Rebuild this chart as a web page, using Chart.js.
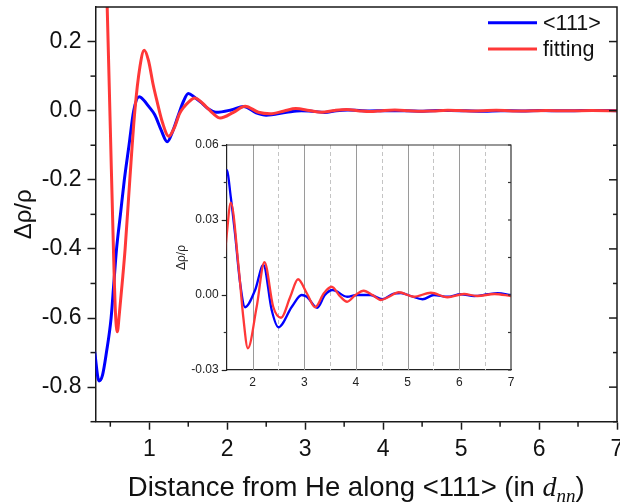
<!DOCTYPE html>
<html>
<head>
<meta charset="utf-8">
<script src="https://cdn.jsdelivr.net/npm/chart.js@4/dist/chart.umd.min.js"></script>
<style>
  html, body { margin: 0; padding: 0; background: #ffffff; }
  #wrap { position: relative; width: 620px; height: 503px; overflow: hidden; }
  #main { position: absolute; left: 0; top: 0; }
  #inset { position: absolute; left: 150px; top: 135px; }
</style>
</head>
<body>
<div id="wrap">
  <canvas id="main" width="620" height="503"></canvas>
  <canvas id="inset" width="375" height="265"></canvas>
</div>
<script>
// ---------- data ----------
const seriesLabels = ['<111>', 'fitting'];

const xBlue = [0.30, 0.355, 0.40, 0.45, 0.51, 0.545, 0.58, 0.63, 0.68, 0.74, 0.80, 0.87, 0.93, 0.99, 1.07, 1.15, 1.23, 1.30, 1.37, 1.44, 1.50,
  1.58, 1.66, 1.76, 1.855, 2.05, 2.21, 2.37, 2.50, 2.76, 2.95, 3.05, 3.25, 3.40, 3.55, 3.83, 4.02, 4.28, 4.51, 4.72, 4.87, 5.06, 5.29, 5.51, 5.77, 6.03, 6.29, 6.55, 6.74, 7.0];
const yBlue = [-0.70, -0.782, -0.765, -0.70, -0.60, -0.50, -0.40, -0.30, -0.20, -0.10, 0.0, 0.040, 0.030, 0.013, -0.012, -0.055, -0.090, -0.060, -0.015, 0.028, 0.050,
  0.039, 0.0247, 0.0047, -0.0049, 0.002, 0.012, -0.006, -0.0129, -0.0047, 0.0, -0.0007, -0.0051, 0.0, 0.002, -0.0007, 0.0, 0.0, -0.0017, 0.0005, 0.0008, -0.0004, -0.0017, 0.0, -0.0007, 0.0003, -0.0004, 0.0003, 0.0007, 0.0];

const xRed = [0.40, 0.46, 0.50, 0.54, 0.565, 0.59, 0.615, 0.66, 0.69, 0.75, 0.815, 0.88, 0.935, 0.99, 1.05, 1.095, 1.17, 1.25, 1.32, 1.39, 1.45, 1.50,
  1.58, 1.73, 1.82, 1.91, 2.08, 2.23, 2.40, 2.55, 2.73, 2.88, 3.05, 3.21, 3.38, 3.53, 3.70, 3.83, 3.99, 4.15, 4.32, 4.48, 4.64, 4.83, 5.12, 5.45, 5.77, 6.09, 6.35, 6.68, 7.0];
const yRed = [0.75, 0.30, -0.05, -0.40, -0.58, -0.64, -0.59, -0.48, -0.40, -0.20, 0.0, 0.127, 0.175, 0.145, 0.075, 0.031, -0.035, -0.074, -0.050, -0.008, 0.012, 0.024,
  0.0369, 0.0113, -0.0087, -0.0213, -0.0047, 0.0131, -0.0047, -0.0091, -0.0007, 0.0063, 0.0007, -0.0049, 0.0007, 0.0033, -0.0007, -0.0027, 0.0, 0.0017, 0.0, -0.002, -0.0007, 0.0011, -0.0007, 0.0009, -0.0009, 0.0004, -0.0004, 0.0004, -0.0004];

// main axes ticks
const mainXTicks = [1, 2, 3, 4, 5, 6, 7];
const mainXMinor = [0.5, 1.5, 2.5, 3.5, 4.5, 5.5, 6.5];
const mainYTicks = [-0.8, -0.6, -0.4, -0.2, 0.0, 0.2];
const mainYMinor = [-0.9, -0.7, -0.5, -0.3, -0.1, 0.1];

// inset axes ticks
const insetXTicks = [2, 3, 4, 5, 6, 7];
const insetXGridSolid = [2, 3, 4, 5, 6];
const insetXGridDashed = [2.5, 3.5, 4.5, 5.5, 6.5];
const insetYTicks = [-0.03, 0.0, 0.03, 0.06];
const insetYMinor = [-0.015, 0.015, 0.045];

// ---------- styles ----------
const BLUE = '#0000ff';
const RED = '#ff3838';
const AXIS = '#1a1a1a';
const SANS = "'Liberation Sans', Arial, Helvetica, sans-serif";
const SERIF = "'Liberation Serif', 'Times New Roman', serif";
Chart.defaults.font.family = SANS;
Chart.defaults.color = '#111';

const pts = (xs, ys) => xs.map((x, i) => ({ x: x, y: ys[i] }));

function seg(ctx, x1, y1, x2, y2) {
  ctx.beginPath(); ctx.moveTo(x1, y1); ctx.lineTo(x2, y2); ctx.stroke();
}

// ---------- main chart decorations ----------
const mainDecor = {
  id: 'mainDecor',
  afterDraw(chart) {
    const ctx = chart.ctx, a = chart.chartArea, x = chart.scales.x, y = chart.scales.y;
    ctx.save();
    ctx.strokeStyle = AXIS;
    ctx.lineWidth = 1.5;
    ctx.lineCap = 'butt';
    // top + right frame
    ctx.beginPath();
    ctx.moveTo(a.left, a.top); ctx.lineTo(a.right, a.top); ctx.lineTo(a.right, a.bottom);
    ctx.stroke();
    // minor ticks outward on left and bottom
    mainYMinor.forEach(v => { const p = y.getPixelForValue(v); seg(ctx, a.left - 5, p, a.left, p); });
    mainXMinor.forEach(v => { const p = x.getPixelForValue(v); if (p > a.left + 1) seg(ctx, p, a.bottom, p, a.bottom + 5); });
    // inward ticks on right
    mainYTicks.forEach(v => { const p = y.getPixelForValue(v); seg(ctx, a.right - 8, p, a.right, p); });
    mainYMinor.forEach(v => { const p = y.getPixelForValue(v); seg(ctx, a.right - 4, p, a.right, p); });

    // x axis title with italic d_nn
    const base = 496;
    const parts = [
      { t: 'Distance from He along <111> (in ', f: '27.5px ' + SANS, dy: 0 },
      { t: 'd', f: 'italic 28px ' + SERIF, dy: 0 },
      { t: 'nn', f: 'italic 19px ' + SERIF, dy: 6 },
      { t: ')', f: '27.5px ' + SANS, dy: 0 }
    ];
    let total = 0;
    parts.forEach(p => { ctx.font = p.f; p.w = ctx.measureText(p.t).width; total += p.w; });
    let cx = (a.left + a.right) / 2 - total / 2;
    ctx.fillStyle = '#111';
    ctx.textBaseline = 'alphabetic';
    ctx.textAlign = 'left';
    parts.forEach(p => { ctx.font = p.f; ctx.fillText(p.t, cx, base + p.dy); cx += p.w; });

    // legend
    const ds = chart.data.datasets;
    const rows = [22.7, 49];
    ctx.font = '21.5px ' + SANS;
    ctx.textBaseline = 'middle';
    ds.forEach((d, i) => {
      ctx.strokeStyle = d.borderColor;
      ctx.lineWidth = 3;
      seg(ctx, 488, rows[i], 537, rows[i]);
      ctx.fillStyle = '#111';
      ctx.fillText(d.label, 543, rows[i] + 1);
    });
    ctx.restore();
  }
};

// ---------- inset decorations ----------
const insetDecor = {
  id: 'insetDecor',
  beforeDatasetsDraw(chart) {
    const ctx = chart.ctx, a = chart.chartArea, x = chart.scales.x;
    ctx.save();
    ctx.lineWidth = 1;
    ctx.strokeStyle = '#9a9a9a';
    insetXGridSolid.forEach(v => { const p = Math.round(x.getPixelForValue(v)) + 0.5; seg(ctx, p, a.top, p, a.bottom); });
    ctx.strokeStyle = '#c4c4c4';
    ctx.setLineDash([4, 3]);
    insetXGridDashed.forEach(v => { const p = Math.round(x.getPixelForValue(v)) + 0.5; seg(ctx, p, a.top, p, a.bottom); });
    ctx.restore();
  },
  afterDraw(chart) {
    const ctx = chart.ctx, a = chart.chartArea, y = chart.scales.y;
    ctx.save();
    ctx.strokeStyle = '#333';
    ctx.lineWidth = 1.2;
    ctx.beginPath();
    ctx.moveTo(a.left, a.top); ctx.lineTo(a.right, a.top); ctx.lineTo(a.right, a.bottom);
    ctx.stroke();
    insetYMinor.forEach(v => { const p = y.getPixelForValue(v); seg(ctx, a.left - 3, p, a.left, p); });
    insetYTicks.concat(insetYMinor).forEach(v => { const p = y.getPixelForValue(v); seg(ctx, a.right - 3, p, a.right, p); });
    ctx.restore();
  }
};

// ---------- main chart ----------
new Chart(document.getElementById('main'), {
  type: 'line',
  data: {
    datasets: [
      { label: seriesLabels[0], data: pts(xBlue, yBlue), borderColor: BLUE, borderWidth: 3, order: 1 },
      { label: seriesLabels[1], data: pts(xRed, yRed), borderColor: RED, borderWidth: 3, order: 0 }
    ]
  },
  options: {
    responsive: false,
    animation: false,
    devicePixelRatio: 1,
    layout: { padding: { top: 7, right: 3, left: 0, bottom: 0 } },
    plugins: { legend: { display: false }, tooltip: { enabled: false } },
    elements: {
      point: { radius: 0 },
      line: { cubicInterpolationMode: 'monotone', borderCapStyle: 'round', borderJoinStyle: 'round' }
    },
    scales: {
      x: {
        type: 'linear', min: 0.31, max: 7,
        afterBuildTicks: s => { s.ticks = mainXTicks.map(v => ({ value: v })); },
        ticks: { font: { size: 23 }, color: '#111', padding: 6, maxRotation: 0, autoSkip: false, callback: v => String(v) },
        grid: { drawOnChartArea: false, drawTicks: true, tickLength: 8, tickWidth: 1.5, tickColor: AXIS },
        border: { display: true, color: AXIS, width: 1.5 },
        afterFit: s => { s.height = 81.3; s.paddingLeft = 0; s.paddingRight = 0; }
      },
      y: {
        type: 'linear', min: -0.9, max: 0.3,
        afterBuildTicks: s => { s.ticks = mainYTicks.map(v => ({ value: v })); },
        ticks: { font: { size: 23 }, color: '#111', padding: 6, callback: v => Number(v).toFixed(1) },
        grid: { drawOnChartArea: false, drawTicks: true, tickLength: 8, tickWidth: 1.5, tickColor: AXIS },
        border: { display: true, color: AXIS, width: 1.5 },
        title: { display: true, text: 'Δρ/ρ', font: { size: 24 }, color: '#111', padding: { top: 10, bottom: 0 } },
        afterFit: s => { s.width = 95.5; s.paddingTop = 0; s.paddingBottom = 0; }
      }
    }
  },
  plugins: [mainDecor]
});

// ---------- inset chart ----------
new Chart(document.getElementById('inset'), {
  type: 'line',
  data: {
    datasets: [
      { label: seriesLabels[0], data: pts(xBlue, yBlue), borderColor: BLUE, borderWidth: 2.3, order: 1 },
      { label: seriesLabels[1], data: pts(xRed, yRed), borderColor: RED, borderWidth: 2.3, order: 0 }
    ]
  },
  options: {
    responsive: false,
    animation: false,
    devicePixelRatio: 1,
    layout: { padding: { top: 10, right: 14, left: 0, bottom: 0 } },
    plugins: { legend: { display: false }, tooltip: { enabled: false } },
    elements: {
      point: { radius: 0 },
      line: { cubicInterpolationMode: 'monotone', borderCapStyle: 'round', borderJoinStyle: 'round' }
    },
    scales: {
      x: {
        type: 'linear', min: 1.5, max: 7,
        afterBuildTicks: s => { s.ticks = insetXTicks.map(v => ({ value: v })); },
        ticks: { font: { size: 12 }, color: '#222', padding: 5, maxRotation: 0, autoSkip: false, callback: v => String(v) },
        grid: { drawOnChartArea: false, drawTicks: false },
        border: { display: true, color: '#222', width: 1.2 },
        afterFit: s => { s.height = 30; s.paddingLeft = 0; s.paddingRight = 0; }
      },
      y: {
        type: 'linear', min: -0.03, max: 0.06,
        afterBuildTicks: s => { s.ticks = insetYTicks.map(v => ({ value: v })); },
        ticks: { font: { size: 12 }, color: '#222', padding: 3, callback: v => Number(v).toFixed(2) },
        grid: { drawOnChartArea: false, drawTicks: true, tickLength: 5, tickWidth: 1.2, tickColor: '#222' },
        border: { display: true, color: '#222', width: 1.2 },
        title: { display: true, text: 'Δρ/ρ', font: { size: 12 }, color: '#222', padding: { top: 24, bottom: 0 } },
        afterFit: s => { s.width = 76.7; s.paddingTop = 0; s.paddingBottom = 0; }
      }
    }
  },
  plugins: [insetDecor]
});
</script>
</body>
</html>
